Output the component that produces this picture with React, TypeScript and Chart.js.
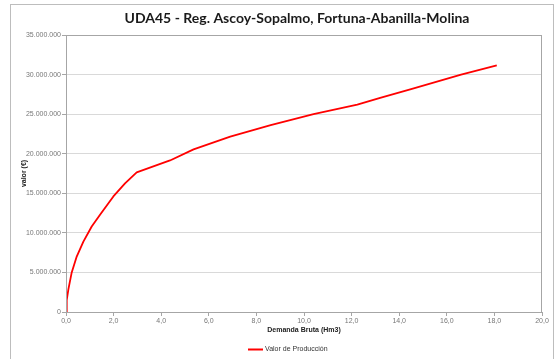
import React, { useEffect, useRef } from "react";
import { Chart, registerables } from "chart.js";

Chart.register(...registerables);

const chartTitle = "UDA45 - Reg. Ascoy-Sopalmo, Fortuna-Abanilla-Molina";
const seriesLabel = "Valor de Producción";
const xTitle = "Demanda Bruta (Hm3)";
const yTitle = "valor (€)";

const demanda = [0, 0.03, 0.1, 0.24, 0.45, 0.73, 1.08, 1.43, 1.99, 2.48, 2.97, 4.37, 5.36, 6.9, 8.6, 10.4, 12.24, 13.2, 14.5, 16.6, 18.1];
const valor = [0, 1500000, 2850000, 5000000, 7000000, 8900000, 10800000, 12300000, 14600000, 16250000, 17650000, 19150000, 20550000, 22150000, 23600000, 25000000, 26200000, 27050000, 28150000, 30000000, 31150000];

const xMin = 0, xMax = 20, xStep = 2;
const yMin = 0, yMax = 35000000, yStep = 5000000;

const fmtY = (v: number) => Math.round(v).toString().replace(/\B(?=(\d{3})+(?!\d))/g, ".");
const fmtX = (v: number) => v.toFixed(1).replace(".", ",");

export default function App() {
  const ref = useRef<HTMLCanvasElement | null>(null);
  useEffect(() => {
    document.body.style.margin = "0";
    const canvas = ref.current!;
    const decor = {
      id: "decor",
      beforeDraw(chart: any) {
        const ctx = chart.ctx;
        ctx.save();
        ctx.fillStyle = "#ffffff";
        ctx.fillRect(0, 0, chart.width, chart.height);
        ctx.strokeStyle = "#bdbdbd";
        ctx.lineWidth = 1;
        ctx.strokeRect(10.5, 4.5, 543, 370);
        ctx.restore();
      },
      afterDatasetsDraw(chart: any) {
        const ctx = chart.ctx;
        const a = chart.chartArea;
        ctx.save();
        ctx.strokeStyle = "#a6a6a6";
        ctx.lineWidth = 1;
        ctx.strokeRect(Math.round(a.left) + 0.5, Math.round(a.top) + 0.5, Math.round(a.right - a.left) - 1, Math.round(a.bottom - a.top));
        ctx.fillStyle = "#1a1a1a";
        ctx.font = "bold 14px Lato";
        ctx.textAlign = "center";
        ctx.textBaseline = "middle";
        ctx.fillText(chartTitle, 297, 18);
        const ds = chart.data.datasets[0];
        ctx.strokeStyle = ds.borderColor;
        ctx.lineWidth = 2;
        ctx.beginPath();
        ctx.moveTo(248, 349.5);
        ctx.lineTo(263, 349.5);
        ctx.stroke();
        ctx.fillStyle = "#333333";
        ctx.font = "7px 'Liberation Sans'";
        ctx.textAlign = "left";
        ctx.fillText(ds.label, 265, 349.5);
        ctx.restore();
      },
    };
    const chart = new Chart(canvas, {
      type: "line",
      data: {
        datasets: [
          {
            label: seriesLabel,
            data: demanda.map((x, i) => ({ x, y: valor[i] })),
            borderColor: "#ff0000",
            borderWidth: 1.8,
            pointRadius: 0,
            tension: 0,
            borderJoinStyle: "round",
            fill: false,
          },
        ],
      },
      options: {
        animation: false,
        responsive: false,
        layout: { padding: { top: 35, right: 13, left: 0, bottom: 0 } },
        plugins: { legend: { display: false }, title: { display: false }, tooltip: { enabled: false } },
        scales: {
          x: {
            type: "linear",
            min: xMin,
            max: xMax,
            ticks: { stepSize: xStep, callback: (v: any) => fmtX(Number(v)), color: "#777777", font: { family: "'Liberation Sans'", size: 7 }, padding: 1, maxRotation: 0 },
            grid: { drawOnChartArea: false, drawTicks: true, tickLength: 4, tickColor: "#a6a6a6" },
            border: { color: "#a6a6a6" },
            title: { display: true, text: xTitle, color: "#222222", font: { family: "'Liberation Sans'", size: 7, weight: "bold" }, padding: { top: 0, bottom: 25 } },
            afterFit: (s: any) => { s.height = 47; },
          },
          y: {
            min: yMin,
            max: yMax,
            ticks: { stepSize: yStep, callback: (v: any) => fmtY(Number(v)), color: "#777777", font: { family: "'Liberation Sans'", size: 7 }, padding: 1 },
            grid: { color: "#d9d9d9", tickLength: 4, tickColor: "#a6a6a6" },
            border: { color: "#a6a6a6" },
            title: { display: true, text: yTitle, color: "#222222", font: { family: "'Liberation Sans'", size: 7, weight: "bold" }, padding: { top: 20, bottom: 0 } },
            afterFit: (s: any) => { s.width = 66; },
          },
        },
      },
      plugins: [decor],
    } as any);
    return () => chart.destroy();
  }, []);
  return (
    <div style={{ position: "relative", width: 555, height: 359 }}>
      <canvas ref={ref} width={555} height={359} style={{ display: "block", width: 555, height: 359 }} />
    </div>
  );
}
